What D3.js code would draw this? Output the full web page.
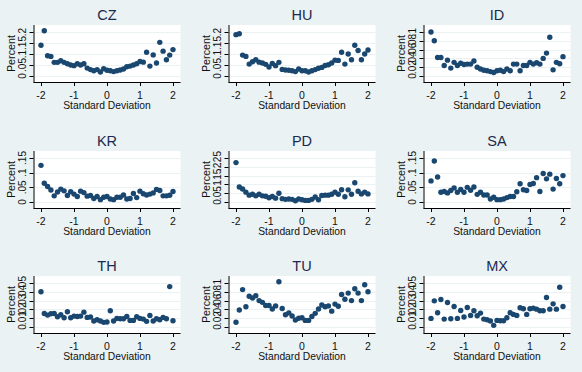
<!DOCTYPE html>
<html>
<head>
<meta charset="utf-8">
<script src="https://cdn.jsdelivr.net/npm/d3@7/dist/d3.min.js"></script>
<style>
  body { margin: 0; background: #eaf2f3; }
  svg { display: block; font-family: "Liberation Sans", Arial, sans-serif; }
</style>
</head>
<body>
<div id="chart"></div>
<script>
// -- data --
var countries = ["CZ", "HU", "ID", "KR", "PD", "SA", "TH", "TU", "MX"];

var sd = [-2.0, -1.9, -1.8, -1.7, -1.6, -1.5, -1.4, -1.3, -1.2, -1.1, -1.0,
          -0.9, -0.8, -0.7, -0.6, -0.5, -0.4, -0.3, -0.2, -0.1, 0.0,
           0.1, 0.2, 0.3, 0.4, 0.5, 0.6, 0.7, 0.8, 0.9, 1.0,
           1.1, 1.2, 1.3, 1.4, 1.5, 1.6, 1.7, 1.8, 1.9, 2.0];

var cz = [.14, .206, .092, .089, .062, .062, .069, .062, .056, .05, .047,
          .056, .05, .056, .036, .029, .024, .029, .018, .033, .026,
          .024, .02, .024, .027, .032, .042, .045, .05, .056, .066,
          .063, .108, .045, .096, .059, .153, .113, .074, .095, .12];
var hu = [.188, .192, .095, .089, .054, .065, .074, .063, .059, .053, .041,
          .057, .047, .062, .03, .027, .026, .024, .02, .032, .024,
          .024, .018, .024, .029, .035, .039, .048, .051, .059, .072,
          .071, .108, .054, .1, .074, .14, .116, .074, .1, .118];
var id = [.1, .08, .042, .042, .024, .036, .018, .031, .024, .029, .026,
          .027, .027, .034, .02, .016, .013, .012, .01, .008, .012,
          .013, .01, .016, .012, .027, .027, .012, .024, .024, .031,
          .027, .03, .027, .04, .052, .088, .014, .031, .028, .044];
var kr = [.125, .064, .053, .041, .021, .034, .044, .038, .022, .035, .027,
          .019, .037, .032, .02, .022, .012, .019, .008, .016, .019,
          .01, .008, .016, .016, .024, .01, .012, .029, .015, .037,
          .028, .024, .027, .031, .043, .039, .021, .021, .023, .036];
var pd = [.224, .085, .074, .056, .039, .044, .035, .044, .035, .033, .024,
          .031, .022, .05, .019, .015, .017, .015, .007, .017, .013,
          .009, .009, .015, .028, .013, .037, .039, .039, .044, .056,
          .044, .07, .03, .069, .044, .109, .061, .046, .056, .046];
var sa = [.072, .14, .085, .033, .036, .031, .039, .048, .033, .043, .033,
          .05, .04, .051, .026, .033, .024, .024, .01, .016, .008,
          .008, .01, .015, .019, .019, .035, .062, .042, .039, .06,
          .063, .083, .036, .097, .079, .095, .044, .08, .062, .09];
var th = [.040, .0154, .0135, .015, .0154, .0117, .0139, .0105, .0173, .0105, .0124,
          .012, .0124, .0169, .0109, .0113, .0068, .0083, .0068, .0053, .0056,
          .0184, .0068, .0098, .0094, .0094, .012, .0075, .0075, .0117, .0098,
          .009, .0064, .0132, .0068, .0094, .0083, .0109, .0094, .0459, .0071];
var tu = [.0108, .0385, .085, .046, .07, .066, .071, .06, .056, .049, .049,
          .041, .048, .103, .042, .028, .032, .025, .016, .02, .021,
          .015, .015, .024, .031, .041, .05, .046, .048, .036, .052,
          .047, .074, .063, .077, .06, .087, .077, .06, .096, .08];
var mx = [.0098, .0297, .0162, .0312, .009, .0278, .0094, .0233, .0098, .0188, .0113,
          .0222, .0132, .0184, .0128, .0158, .009, .0083, .0068, .0019, .0075,
          .0071, .0071, .0105, .0162, .0143, .0132, .0218, .0207, .0143, .0207,
          .0214, .0203, .0184, .0184, .0335, .0203, .0263, .0203, .0451, .0233];

var ticks_cz = [0, .05, .1, .15, .2];
var ticks_hu = [0, .05, .1, .15, .2];
var ticks_id = [0, .02, .04, .06, .08, .1];
var ticks_kr = [0, .05, .1, .15];
var ticks_pd = [0, .05, .1, .15, .2, .25];
var ticks_sa = [0, .05, .1, .15];
var ticks_th = [0, .01, .02, .03, .04, .05];
var ticks_tu = [0, .02, .04, .06, .08, .1];
var ticks_mx = [0, .01, .02, .03, .04, .05];

var x_ticks = [-2, -1, 0, 1, 2];

var series = [cz, hu, id, kr, pd, sa, th, tu, mx];
var tick_sets = [ticks_cz, ticks_hu, ticks_id, ticks_kr, ticks_pd, ticks_sa, ticks_th, ticks_tu, ticks_mx];

// -- drawing --
var W = 582, H = 372;
var col_x = [0, 195, 390];
var row_y = [0, 126, 251];
var navy = "#1a476f", bg = "#eaf2f3";

var svg = d3.select("#chart").append("svg")
  .attr("width", W).attr("height", H);

svg.append("rect").attr("width", W).attr("height", H).attr("fill", bg);

// stata style labels: ".05" instead of "0.05"
var fmt_y = function (d) {
  if (d === 0) return "0";
  return String(d).replace(/^0/, "");
};

countries.forEach(function (name, i) {
  var ox = col_x[i % 3], oy = row_y[Math.floor(i / 3)];
  var left = 33.5, right = 180.5, top = 25, bottom = 82;
  var values = series[i], tks = tick_sets[i];

  var g = svg.append("g").attr("transform", "translate(" + ox + "," + oy + ")");

  var x = d3.scaleLinear().domain([-2, 2]).range([41, 173]);
  var y = d3.scaleLinear().domain([0, d3.max(tks)]).range([bottom - 6, bottom - 50]);

  // plot region
  g.append("rect")
    .attr("x", left).attr("y", top)
    .attr("width", right - left).attr("height", bottom - top)
    .attr("fill", "white");

  // grid lines
  g.selectAll("line.grid").data(tks).enter().append("line")
    .attr("class", "grid")
    .attr("x1", left).attr("x2", right)
    .attr("y1", function (d) { return Math.round(y(d)) + 0.5; })
    .attr("y2", function (d) { return Math.round(y(d)) + 0.5; })
    .attr("stroke", bg).attr("stroke-width", 1);

  // points
  g.selectAll("circle").data(values).enter().append("circle")
    .attr("cx", function (d, j) { return x(sd[j]); })
    .attr("cy", function (d) { return y(d); })
    .attr("r", 2.7)
    .attr("fill", navy);

  // y axis
  var y_axis = d3.axisLeft(y).tickValues(tks).tickSize(4).tickFormat("");
  var ya = g.append("g").attr("transform", "translate(" + left + ",0)").call(y_axis);
  ya.select(".domain").attr("d", "M0.5," + top + "V" + (bottom + 0.5));
  ya.selectAll("line").attr("stroke", "#000");
  ya.selectAll(".tick").attr("transform", function (d) {
    return "translate(0," + (Math.round(y(d)) + 0.5) + ")";
  });

  g.selectAll("text.ylab").data(tks).enter().append("text")
    .attr("class", "ylab")
    .attr("transform", function (d) {
      return "translate(" + (left - 7.5) + "," + y(d) + ") rotate(-90)";
    })
    .attr("text-anchor", "middle")
    .style("font-size", "10px")
    .attr("fill", "#111")
    .text(fmt_y);

  // x axis
  var x_axis = d3.axisBottom(x).tickValues(x_ticks).tickSize(4).tickFormat("");
  var xa = g.append("g").attr("transform", "translate(0," + bottom + ")").call(x_axis);
  xa.select(".domain").attr("d", "M" + left + ",0.5H" + right);
  xa.selectAll("line").attr("stroke", "#000");

  g.selectAll("text.xlab").data(x_ticks).enter().append("text")
    .attr("class", "xlab")
    .attr("x", function (d) { return x(d); })
    .attr("y", bottom + 16.5)
    .attr("text-anchor", "middle")
    .style("font-size", "10.5px")
    .attr("fill", "#111")
    .text(function (d) { return d; });

  // axis titles
  g.append("text")
    .attr("x", (left + right) / 2).attr("y", bottom + 27)
    .attr("text-anchor", "middle")
    .style("font-size", "10.3px")
    .attr("fill", "#111")
    .text("Standard Deviation");

  g.append("text")
    .attr("transform", "translate(15," + ((top + bottom) / 2) + ") rotate(-90)")
    .attr("text-anchor", "middle")
    .style("font-size", "10.8px")
    .attr("fill", "#111")
    .text("Percent");

  // panel title
  g.append("text")
    .attr("x", (left + right) / 2).attr("y", 20)
    .attr("text-anchor", "middle")
    .style("font-size", "14.5px")
    .attr("fill", "#1a2a4e")
    .text(name);
});
</script>
</body>
</html>
